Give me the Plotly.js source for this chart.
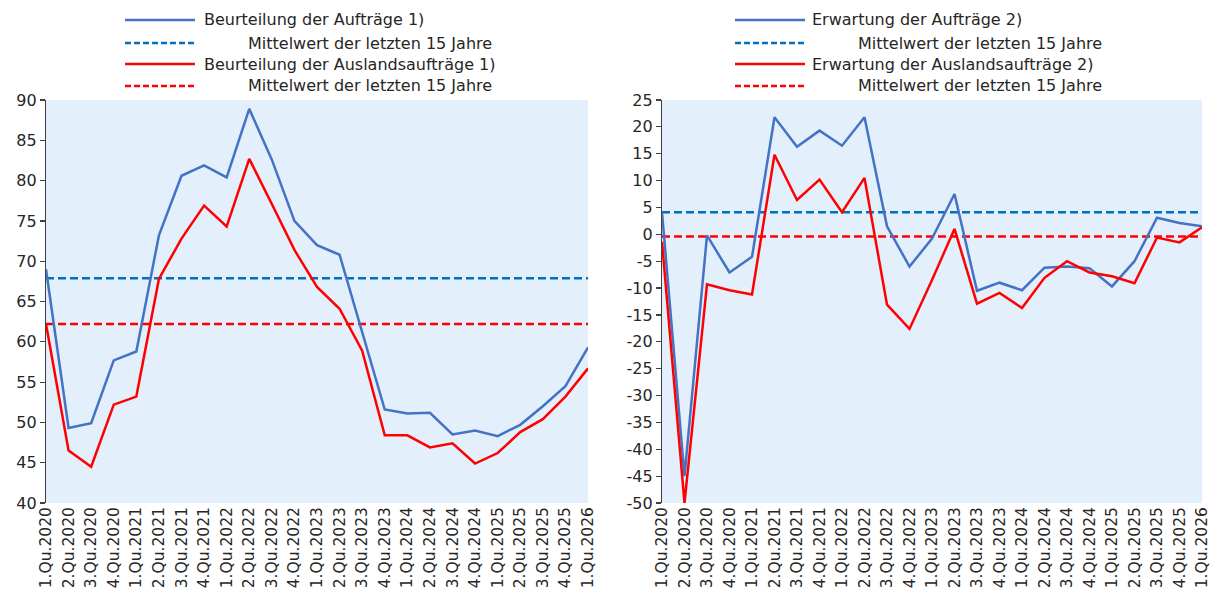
<!DOCTYPE html>
<html>
<head>
<meta charset="utf-8">
<script src="https://cdn.plot.ly/plotly-3.0.1.min.js"></script>
<style>html,body{margin:0;padding:0;background:#fff;}#chart{width:1215px;height:599px;}</style>
</head>
<body>
<div id="chart"></div>
<script>
const categories = ['1.Qu.2020','2.Qu.2020','3.Qu.2020','4.Qu.2020','1.Qu.2021','2.Qu.2021','3.Qu.2021','4.Qu.2021','1.Qu.2022','2.Qu.2022','3.Qu.2022','4.Qu.2022','1.Qu.2023','2.Qu.2023','3.Qu.2023','4.Qu.2023','1.Qu.2024','2.Qu.2024','3.Qu.2024','4.Qu.2024','1.Qu.2025','2.Qu.2025','3.Qu.2025','4.Qu.2025','1.Qu.2026'];

// Left panel: Beurteilung
const beurteilungAuftraege = [69.0, 49.3, 49.9, 57.7, 58.8, 73.2, 80.6, 81.9, 80.4, 88.9, 82.6, 75.0, 72.0, 70.8, 61.2, 51.6, 51.1, 51.2, 48.5, 49.0, 48.3, 49.7, 52.0, 54.5, 59.3];
const beurteilungAusland = [62.2, 46.5, 44.5, 52.2, 53.2, 67.8, 72.8, 76.9, 74.3, 82.7, 77.1, 71.4, 66.8, 64.1, 58.9, 48.4, 48.4, 46.9, 47.4, 44.9, 46.2, 48.8, 50.4, 53.2, 56.7];
const mittelBeurteilungAuftraege = 67.9;
const mittelBeurteilungAusland = 62.2;
const leftTicks = [40, 45, 50, 55, 60, 65, 70, 75, 80, 85, 90];

// Right panel: Erwartung
const erwartungAuftraege = [4.1, -45.0, -0.2, -7.1, -4.2, 21.8, 16.3, 19.3, 16.5, 21.8, 1.5, -6.0, -0.8, 7.5, -10.5, -9.0, -10.4, -6.2, -6.0, -6.3, -9.7, -5.0, 3.1, 2.1, 1.5];
const erwartungAusland = [-1.4, -50.0, -9.3, -10.4, -11.2, 14.8, 6.4, 10.2, 4.1, 10.5, -13.1, -17.6, -8.5, 1.0, -12.9, -10.9, -13.7, -8.1, -5.0, -7.1, -7.8, -9.1, -0.6, -1.5, 1.3];
const mittelErwartungAuftraege = 4.1;
const mittelErwartungAusland = -0.4;
const rightTicks = [-50, -45, -40, -35, -30, -25, -20, -15, -10, -5, 0, 5, 10, 15, 20, 25];

const legendLeft = ['Beurteilung der Aufträge 1)', 'Mittelwert der letzten 15 Jahre', 'Beurteilung der Auslandsaufträge 1)', 'Mittelwert der letzten 15 Jahre'];
const legendRight = ['Erwartung der Aufträge 2)', 'Mittelwert der letzten 15 Jahre', 'Erwartung der Auslandsaufträge 2)', 'Mittelwert der letzten 15 Jahre'];

const W = 1215, H = 599;
const FONT = 'DejaVu Sans';
const TXT = '#262626';
const BLUE = '#4472C4', BLUE_D = '#0070C0', RED = '#FF0000';
const DASH = '8px,4px';

function flat(v){ return categories.map(() => v); }

const traces = [
  {x: categories, y: flat(mittelBeurteilungAuftraege), xaxis:'x', yaxis:'y', mode:'lines', line:{color:BLUE_D, width:2.5, dash:DASH}, name: legendLeft[1]},
  {x: categories, y: flat(mittelBeurteilungAusland), xaxis:'x', yaxis:'y', mode:'lines', line:{color:RED, width:2.5, dash:DASH}, name: legendLeft[3]},
  {x: categories, y: beurteilungAuftraege, xaxis:'x', yaxis:'y', mode:'lines', line:{color:BLUE, width:2.5}, name: legendLeft[0]},
  {x: categories, y: beurteilungAusland, xaxis:'x', yaxis:'y', mode:'lines', line:{color:RED, width:2.5}, name: legendLeft[2]},
  {x: categories, y: flat(mittelErwartungAuftraege), xaxis:'x2', yaxis:'y2', mode:'lines', line:{color:BLUE_D, width:2.5, dash:DASH}, name: legendRight[1]},
  {x: categories, y: flat(mittelErwartungAusland), xaxis:'x2', yaxis:'y2', mode:'lines', line:{color:RED, width:2.5, dash:DASH}, name: legendRight[3]},
  {x: categories, y: erwartungAuftraege, xaxis:'x2', yaxis:'y2', mode:'lines', line:{color:BLUE, width:2.5}, name: legendRight[0]},
  {x: categories, y: erwartungAusland, xaxis:'x2', yaxis:'y2', mode:'lines', line:{color:RED, width:2.5}, name: legendRight[2]}
];

const yTop = 1 - 100/H, yBot = 1 - 503/H;
function xAxis(domain, anchor){
  return {domain: domain, anchor: anchor, type:'category', range:[0, categories.length-1],
    tickmode:'array', tickvals: categories, ticktext: categories, tickangle:-90,
    showgrid:false, zeroline:false, showline:false, ticks:'',
    tickfont:{family:FONT, size:15.5, color:TXT}, fixedrange:true};
}
function yAxis(range, ticks, anchor){
  return {domain:[yBot, yTop], anchor: anchor, range: range,
    tickmode:'array', tickvals: ticks, ticktext: ticks.map(String),
    showgrid:false, zeroline:false, showline:true, linecolor:'#404040', linewidth:1.2,
    ticks:'outside', ticklen:5, tickcolor:'#404040', tickwidth:1.2,
    tickfont:{family:FONT, size:16, color:TXT}, fixedrange:true};
}

// legend built from shapes + annotations
const shapes = [], annotations = [];
const rowsY = [20, 43, 64, 86];
const legendStyles = [
  {color:BLUE, dash:false}, {color:BLUE_D, dash:true}, {color:RED, dash:false}, {color:RED, dash:true}
];
function addLegend(x0, x1, textX, indentX, labels){
  labels.forEach((lab, i) => {
    const py = 1 - rowsY[i]/H;
    shapes.push({type:'line', xref:'paper', yref:'paper', x0:x0/W, x1:x1/W, y0:py, y1:py,
      line:{color:legendStyles[i].color, width:2.5, dash: legendStyles[i].dash ? '6px,3px' : 'solid'}});
    annotations.push({xref:'paper', yref:'paper', x:(i % 2 === 1 ? indentX : textX)/W, y:py,
      xanchor:'left', yanchor:'middle', text: lab, showarrow:false,
      font:{family:FONT, size:16, color:TXT}});
  });
}
addLegend(125, 195, 202, 246, legendLeft);
addLegend(735, 805, 810, 856, legendRight);

const layout = {
  width:W, height:H, margin:{l:0, r:0, t:0, b:0},
  paper_bgcolor:'#ffffff', plot_bgcolor:'#E3F0FC',
  showlegend:false,
  xaxis: xAxis([46/W, 588/W], 'y'),
  yaxis: yAxis([40, 90], leftTicks, 'x'),
  xaxis2: xAxis([662/W, 1202/W], 'y2'),
  yaxis2: yAxis([-50, 25], rightTicks, 'x2'),
  shapes: shapes,
  annotations: annotations
};

Plotly.newPlot('chart', traces, layout, {displayModeBar:false, staticPlot:true});
</script>
</body>
</html>
